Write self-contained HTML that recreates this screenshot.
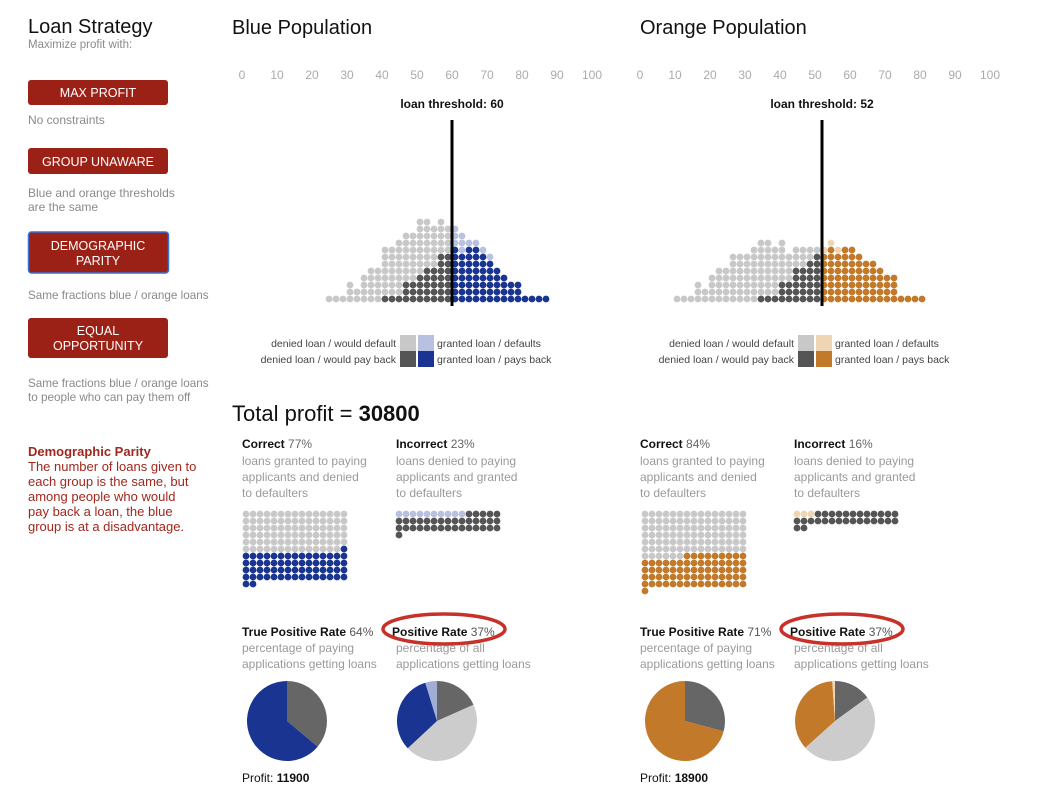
<!DOCTYPE html>
<html><head><meta charset="utf-8">
<style>
html,body{margin:0;padding:0;background:#fff;width:1044px;height:801px;overflow:hidden}
svg{display:block;font-family:"Liberation Sans",sans-serif}
.g{fill:#8a8a8a;font-size:12px}
.t{fill:#aaa;font-size:12px}
.b{font-weight:bold;fill:#111;font-size:12px}
.r{fill:#a0281e;font-size:13px}
.bt{fill:#fff;font-size:12.5px;text-anchor:middle}
</style></head><body>
<svg id="s" width="1044" height="801" xmlns="http://www.w3.org/2000/svg">
<text x="28" y="33" font-size="20" fill="#111">Loan Strategy</text>
<text x="28" y="48" class="g" style="font-size:11.5px">Maximize profit with:</text>
<rect x="28" y="80" width="140" height="25" rx="3" fill="#9b2116"/>
<text x="98" y="97" class="bt">MAX PROFIT</text>
<text x="28" y="124" class="g">No constraints</text>
<rect x="28" y="148" width="140" height="26" rx="3" fill="#9b2116"/>
<text x="98" y="166" class="bt">GROUP UNAWARE</text>
<text x="28" y="197" class="g">Blue and orange thresholds</text>
<text x="28" y="211" class="g">are the same</text>
<rect x="28.5" y="232" width="140" height="41" rx="3" fill="#9b2116" stroke="#3b6fd4" stroke-width="1.5"/>
<text x="98" y="250" class="bt">DEMOGRAPHIC</text>
<text x="98" y="265" class="bt">PARITY</text>
<text x="28" y="299" class="g" style="font-size:11.7px">Same fractions blue / orange loans</text>
<rect x="28" y="318" width="140" height="40" rx="3" fill="#9b2116"/>
<text x="98" y="335" class="bt">EQUAL</text>
<text x="98" y="350" class="bt">OPPORTUNITY</text>
<text x="28" y="387" class="g" style="font-size:11.7px">Same fractions blue / orange loans</text>
<text x="28" y="401" class="g" style="font-size:11.7px">to people who can pay them off</text>
<text x="28" y="456" class="r" font-weight="bold" font-size="12">Demographic Parity</text>
<text x="28" y="471" class="r">The number of loans given to</text>
<text x="28" y="486" class="r">each group is the same, but</text>
<text x="28" y="501" class="r">among people who would</text>
<text x="28" y="516" class="r">pay back a loan, the blue</text>
<text x="28" y="531" class="r">group is at a disadvantage.</text>

<text x="232" y="34" font-size="20" fill="#111">Blue Population</text>
<text x="640" y="34" font-size="20" fill="#111">Orange Population</text>
<text x="232" y="421" font-size="22" fill="#111">Total profit = <tspan font-weight="bold">30800</tspan></text>
</svg>
<script>
var s=document.getElementById('s'),NS='http://www.w3.org/2000/svg';
function el(t,a,txt){var e=document.createElementNS(NS,t);for(var k in a)e.setAttribute(k,a[k]);if(txt!==undefined)e.textContent=txt;s.appendChild(e);return e;}
function dot(x,y,c){el('circle',{cx:x,cy:y,r:3.4,fill:c});}
var LG='#c8c8c8',DG='#555';
function side(o){
  var X=o.x0;
  for(var v=0;v<=100;v+=10)el('text',{x:X+10+3.5*v,y:79,'class':'t','text-anchor':'middle'},''+v);
  var tx=X+10+3.5*o.th;
  el('text',{x:tx,y:108,'class':'b','text-anchor':'middle'},'loan threshold: '+o.th);
  for(var k=0;k<o.tot.length;k++){
    var cx=o.c0+7*k;
    for(var r=0;r<o.tot[k];r++){
      var c;
      if(k<o.split){c=r<o.dark[k]?DG:LG;}
      else{var li=o.light[k-o.split]||0;c=r>=o.tot[k]-li?o.lc:o.mc;}
      dot(cx,299-7*r,c);
    }
  }
  el('rect',{x:tx-1.5,y:120,width:3,height:186,fill:'#000'});
  var L=X+168;
  el('rect',{x:L,y:335,width:16,height:16,fill:LG});
  el('rect',{x:L+18,y:335,width:16,height:16,fill:o.lc});
  el('rect',{x:L,y:351,width:16,height:16,fill:DG});
  el('rect',{x:L+18,y:351,width:16,height:16,fill:o.mc});
  var st='fill:#444;font-size:10.5px';
  el('text',{x:L-4,y:347,'text-anchor':'end',style:st},'denied loan / would default');
  el('text',{x:L-4,y:363,'text-anchor':'end',style:st},'denied loan / would pay back');
  el('text',{x:L+37,y:347,style:st},'granted loan / defaults');
  el('text',{x:L+37,y:363,style:st},'granted loan / pays back');
  var A=X+10,B=X+164;
  var t1=el('text',{x:A,y:448,'class':'b'},'Correct');var ts=document.createElementNS(NS,'tspan');ts.setAttribute('font-weight','normal');ts.setAttribute('fill','#666');ts.textContent=' '+o.cor+'%';t1.appendChild(ts);
  var t2=el('text',{x:B,y:448,'class':'b'},'Incorrect');ts=document.createElementNS(NS,'tspan');ts.setAttribute('font-weight','normal');ts.setAttribute('fill','#666');ts.textContent=' '+o.inc+'%';t2.appendChild(ts);
  ['loans granted to paying','applicants and denied','to defaulters'].forEach(function(t,i){el('text',{x:A,y:465+16*i,'class':'g',style:'fill:#9a9a9a'},t);});
  ['loans denied to paying','applicants and granted','to defaulters'].forEach(function(t,i){el('text',{x:B,y:465+16*i,'class':'g',style:'fill:#9a9a9a'},t);});
  for(var i=0;i<o.cg.length;i++){var row=o.cg[i];for(var j=0;j<row.length;j++){if(row[j]!==' ')dot(o.cgx+7*j,514+7*i,row[j]==='g'?LG:o.mc);}}
  for(i=0;i<o.ig.length;i++){row=o.ig[i];for(j=0;j<row.length;j++){if(row[j]!==' ')dot(o.igx+7*j,514+7*i,row[j]==='l'?o.lc:DG);}}
  var t3=el('text',{x:A,y:636,'class':'b'},'True Positive Rate');ts=document.createElementNS(NS,'tspan');ts.setAttribute('font-weight','normal');ts.setAttribute('fill','#555');ts.textContent=' '+o.tpr+'%';t3.appendChild(ts);
  var P=X+160;
  var t4=el('text',{x:P,y:636,'class':'b'},'Positive Rate');ts=document.createElementNS(NS,'tspan');ts.setAttribute('font-weight','normal');ts.setAttribute('fill','#555');ts.textContent=' 37%';t4.appendChild(ts);
  el('text',{x:A,y:652,'class':'g',style:'fill:#9a9a9a'},'percentage of paying');
  el('text',{x:A,y:668,'class':'g',style:'fill:#9a9a9a'},'applications getting loans');
  el('text',{x:B,y:652,'class':'g',style:'fill:#9a9a9a'},'percentage of all');
  el('text',{x:B,y:668,'class':'g',style:'fill:#9a9a9a'},'applications getting loans');
  el('ellipse',{cx:P+52,cy:629,rx:61,ry:15,fill:'none',stroke:'#c8302a','stroke-width':3.5});
  pie(X+55,721,o.p1);pie(X+205,721,o.p2);
  var t5=el('text',{x:A,y:782,'font-size':'12',fill:'#111'},'Profit: ');ts=document.createElementNS(NS,'tspan');ts.setAttribute('font-weight','bold');ts.textContent=o.profit;t5.appendChild(ts);
}
function pie(cx,cy,segs){
  var a0=0,R=40;
  segs.forEach(function(sg){
    var a1=sg[0];var r0=(a0-90)*Math.PI/180,r1=(a1-90)*Math.PI/180;
    var d='M'+cx+','+cy+'L'+(cx+R*Math.cos(r0))+','+(cy+R*Math.sin(r0))+'A'+R+','+R+' 0 '+((a1-a0)>180?1:0)+' 1 '+(cx+R*Math.cos(r1))+','+(cy+R*Math.sin(r1))+'Z';
    el('path',{d:d,fill:sg[1]});a0=a1;
  });
}
function rep(c,n){return new Array(n+1).join(c);}
var BL='#1a3591',BLL='#b8c2e0',OR='#c27a2a',ORL='#f0d5b5';
side({x0:232,th:60,c0:329,split:18,mc:BL,lc:BLL,
 tot:[1,1,1,3,2,4,5,5,8,8,9,10,10,12,12,11,12,11,11,10,9,9,8,7,5,4,3,3,1,1,1,1],
 dark:[0,0,0,0,0,0,0,0,1,1,1,3,3,4,5,5,7,7],light:[3,3,1,1,1,1],
 cor:77,inc:23,cgx:246,igx:399,
 cg:[rep('g',15),rep('g',15),rep('g',15),rep('g',15),rep('g',15),rep('g',14)+'b',rep('b',15),rep('b',15),rep('b',15),rep('b',15),'bb'],
 ig:[rep('l',10)+rep('d',5),rep('d',15),rep('d',15),'d'],
 tpr:64,p1:[[130,'#666'],[360,BL]],p2:[[66,'#666'],[227,'#cccccc'],[343,BL],[360,'#a0aed6']],profit:'11900'});
side({x0:630,th:52,c0:677,split:21,mc:OR,lc:ORL,
 tot:[1,1,1,3,2,4,5,5,7,7,7,8,9,9,8,9,7,8,8,8,8,8,9,8,8,8,7,6,6,5,4,4,1,1,1,1],
 dark:[0,0,0,0,0,0,0,0,0,0,0,0,1,1,1,3,3,5,5,6,7],light:[1,1,1],
 cor:84,inc:16,cgx:645,igx:797,
 cg:[rep('g',15),rep('g',15),rep('g',15),rep('g',15),rep('g',15),rep('g',15),rep('g',6)+rep('o',9),rep('o',15),rep('o',15),rep('o',15),rep('o',15),'o'],
 ig:['lll'+rep('d',12),rep('d',15),'dd'],
 tpr:71,p1:[[105,'#666'],[360,OR]],p2:[[54,'#666'],[228,'#cccccc'],[356,OR],[360,ORL]],profit:'18900'});
</script>
</body></html>
